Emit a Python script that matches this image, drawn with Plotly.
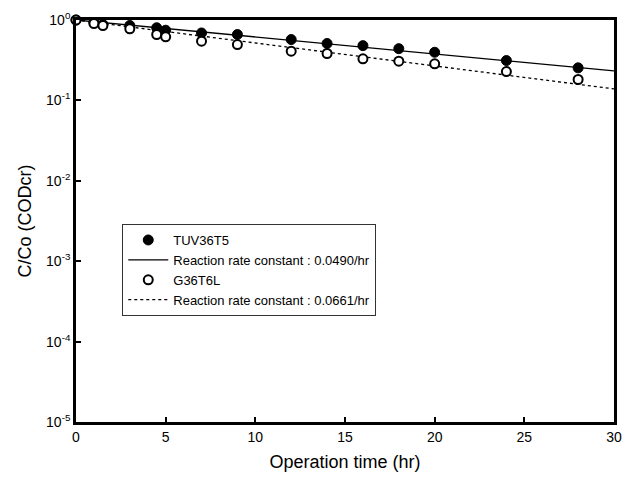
import plotly.graph_objects as go

# ---- data ----
time_hr = [0, 1, 1.5, 3, 4.5, 5, 7, 9, 12, 14, 16, 18, 20, 24, 28]
tuv36t5 = [1.0, 0.93, 0.88, 0.855, 0.80, 0.746, 0.69, 0.66, 0.571, 0.51, 0.48, 0.44, 0.397, 0.313, 0.254]
g36t6l = [1.0, 0.905, 0.854, 0.776, 0.66, 0.618, 0.545, 0.495, 0.409, 0.383, 0.329, 0.307, 0.285, 0.228, 0.182]
fit_time = [0, 30]
fit_tuv = [1.0, 0.233]
fit_g36 = [1.0, 0.139]
x_ticks = [0, 5, 10, 15, 20, 25, 30]
y_tickvals = [1, 0.1, 0.01, 0.001, 0.0001, 0.00001]
y_ticktext = ["10<sup>0</sup>", "10<sup>-1</sup>", "10<sup>-2</sup>",
              "10<sup>-3</sup>", "10<sup>-4</sup>", "10<sup>-5</sup>"]

FONT = "Arial, 'Liberation Sans', sans-serif"

fig = go.Figure()
fig.add_trace(go.Scatter(x=fit_time, y=fit_tuv, mode="lines",
                         name="Reaction rate constant : 0.0490/hr",
                         line=dict(color="black", width=1.3), legendrank=2))
fig.add_trace(go.Scatter(x=fit_time, y=fit_g36, mode="lines",
                         name="Reaction rate constant : 0.0661/hr",
                         line=dict(color="black", width=1.3, dash="dot"), legendrank=4))
fig.add_trace(go.Scatter(x=time_hr, y=tuv36t5, mode="markers", name="TUV36T5",
                         marker=dict(symbol="circle", size=10, color="black",
                                     line=dict(color="black", width=1)),
                         cliponaxis=False, legendrank=1))
fig.add_trace(go.Scatter(x=time_hr, y=g36t6l, mode="markers", name="G36T6L",
                         marker=dict(symbol="circle", size=9, color="white",
                                     line=dict(color="black", width=2)),
                         cliponaxis=False, legendrank=3))

fig.update_layout(
    width=632, height=481,
    margin=dict(l=76, r=10, t=20, b=59),
    paper_bgcolor="white", plot_bgcolor="white",
    font=dict(family=FONT, color="black", size=14),
    showlegend=True,
    legend=dict(x=0.086, y=0.4925, xanchor="left", yanchor="top",
                bgcolor="white", bordercolor="#333", borderwidth=1,
                font=dict(size=13, family=FONT), itemwidth=40,
                tracegroupgap=0),
    xaxis=dict(range=[0, 30], tickvals=x_ticks, ticks="inside", ticklen=5,
               tickwidth=2, tickcolor="black", showline=True, linecolor="black",
               linewidth=2.7, mirror=True, showgrid=False, zeroline=False,
               tickfont=dict(size=14),
               title=dict(text="Operation time (hr)", font=dict(size=18), standoff=12)),
    yaxis=dict(type="log", range=[-5, 0], tickvals=y_tickvals, ticktext=y_ticktext,
               ticks="inside", ticklen=5, tickwidth=2, tickcolor="black",
               showline=True, linecolor="black", linewidth=2.7, mirror=True,
               showgrid=False, zeroline=False, tickfont=dict(size=14),
               title=dict(text="C/Co (CODcr)", font=dict(size=18), standoff=10)),
)

fig.write_html("out.html")
